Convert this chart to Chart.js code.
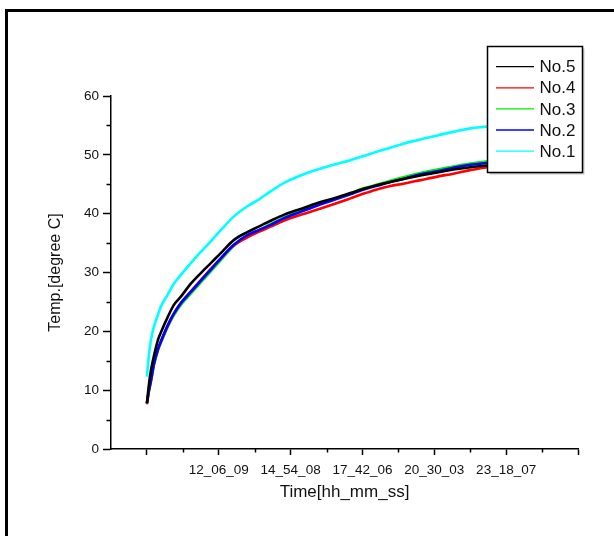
<!DOCTYPE html>
<html>
<head>
<meta charset="utf-8">
<script src="https://cdn.jsdelivr.net/npm/chart.js@4/dist/chart.umd.min.js"></script>
<style>
  html, body { margin: 0; padding: 0; background: #fff; overflow: hidden; }
  #frame { position: absolute; left: 5px; top: 9px; width: 640px; height: 560px; border: 3px solid #000; box-sizing: border-box; }
  #c { position: absolute; left: 0; top: 0; }
</style>
</head>
<body>
<div id="frame"></div>
<canvas id="c" width="614" height="536"></canvas>
<script>
// x positions in units of major time ticks (0 = start of record)
const timeIndex = [0, 0.028, 0.056, 0.097, 0.153, 0.194, 0.292, 0.375, 0.472, 0.611, 0.75, 0.889, 1.028, 1.208, 1.403, 1.556, 1.722, 1.903, 2.139, 2.375, 2.597, 2.833, 3.042, 3.222, 3.389, 3.569, 3.806, 4.042, 4.264, 4.5, 4.736, 5.056, 5.333, 5.611];
const timeLabels = ['', '12_06_09', '14_54_08', '17_42_06', '20_30_03', '23_18_07', ''];
const yTicks = [0, 10, 20, 30, 40, 50, 60];

const no5 = [7.8, 11.0, 13.4, 15.8, 18.5, 19.8, 22.5, 24.5, 25.9, 28.1, 29.9, 31.6, 33.3, 35.5, 36.9, 37.8, 38.8, 39.8, 40.8, 41.8, 42.6, 43.5, 44.3, 44.9, 45.4, 45.9, 46.5, 47.0, 47.5, 47.9, 48.2, 48.7, 49.1, 49.4];
const no4 = [7.6, 9.9, 11.6, 14.4, 16.9, 18.2, 21.0, 23.0, 24.8, 26.8, 28.7, 30.6, 32.4, 34.6, 36.0, 36.9, 37.8, 38.8, 39.8, 40.7, 41.6, 42.6, 43.5, 44.2, 44.7, 45.1, 45.7, 46.3, 46.8, 47.4, 47.9, 48.3, 48.7, 49.0];
const no3 = [7.8, 9.8, 11.4, 14.2, 16.7, 18.0, 20.8, 22.7, 24.5, 26.4, 28.3, 30.2, 32.1, 34.5, 36.3, 37.2, 38.2, 39.3, 40.5, 41.6, 42.5, 43.5, 44.4, 45.0, 45.6, 46.2, 46.9, 47.5, 48.0, 48.5, 48.9, 49.4, 49.8, 50.1];
const no2 = [7.8, 10.0, 11.7, 14.5, 17.0, 18.3, 21.1, 23.0, 24.8, 26.7, 28.6, 30.5, 32.4, 34.7, 36.4, 37.2, 38.1, 39.2, 40.3, 41.4, 42.3, 43.3, 44.2, 44.8, 45.4, 45.9, 46.7, 47.2, 47.8, 48.3, 48.6, 49.1, 49.5, 49.8];
const no1 = [12.3, 16.0, 18.5, 20.8, 22.8, 24.2, 26.3, 28.1, 29.6, 31.6, 33.5, 35.3, 37.2, 39.5, 41.3, 42.4, 43.8, 45.2, 46.5, 47.5, 48.3, 49.1, 49.9, 50.6, 51.2, 51.9, 52.6, 53.3, 53.9, 54.5, 54.8, 55.3, 55.7, 56.0];

const seriesNames = ['No.5', 'No.4', 'No.3', 'No.2', 'No.1'];
const seriesValues = [no5, no4, no3, no2, no1];
const seriesColors = ['#000000', '#ff0000', '#00ee00', '#0000ff', '#00ffff'];
const drawOrder = [0, 2, 3, 1, 4];

const FONT = '"Liberation Sans", Arial, sans-serif';

const datasets = seriesNames.map((name, i) => ({
  label: name,
  data: timeIndex.map((x, k) => ({ x: x, y: seriesValues[i][k] })),
  borderColor: seriesColors[i],
  backgroundColor: seriesColors[i],
  borderWidth: 2.6,
  pointRadius: 0,
  cubicInterpolationMode: 'monotone',
  fill: false,
  order: drawOrder[i]
}));

const minorTicks = {
  id: 'minorTicks',
  afterDraw(chart) {
    const ctx = chart.ctx, a = chart.chartArea, xs = chart.scales.x, ys = chart.scales.y;
    ctx.save();
    ctx.strokeStyle = '#000';
    ctx.lineWidth = 1.5;
    ctx.beginPath();
    for (let v = 0.5; v < 6; v += 1) {
      const px = Math.round(xs.getPixelForValue(v)) + 0.5;
      ctx.moveTo(px, a.bottom); ctx.lineTo(px, a.bottom + 3.5);
    }
    for (let v = 5; v < 60; v += 10) {
      const py = Math.round(ys.getPixelForValue(v)) + 0.5;
      ctx.moveTo(a.left, py); ctx.lineTo(a.left - 4.5, py);
    }
    ctx.stroke();
    ctx.restore();
  }
};

const boxLegend = {
  id: 'boxLegend',
  afterDraw(chart) {
    const ctx = chart.ctx;
    const L = 487.5, T = 46.5, W = 95, H = 126;
    ctx.save();
    ctx.fillStyle = '#c8c8c8';
    ctx.fillRect(L + 2, T + 2, W, H);
    ctx.fillStyle = '#fff';
    ctx.fillRect(L, T, W, H);
    ctx.strokeStyle = '#000';
    ctx.lineWidth = 1.5;
    ctx.strokeRect(L, T, W, H);
    ctx.font = '17px ' + FONT;
    ctx.textBaseline = 'middle';
    ctx.textAlign = 'left';
    chart.data.datasets.forEach((ds, i) => {
      const y = 66.7 + i * 21.1;
      ctx.strokeStyle = ds.borderColor;
      ctx.lineWidth = 1.3;
      ctx.beginPath();
      ctx.moveTo(496, y); ctx.lineTo(534, y);
      ctx.stroke();
      ctx.fillStyle = '#111';
      ctx.fillText(ds.label, 539.5, y + 1);
    });
    ctx.restore();
  }
};

new Chart(document.getElementById('c'), {
  type: 'line',
  data: { datasets: datasets },
  options: {
    responsive: false,
    animation: false,
    devicePixelRatio: 1,
    layout: { padding: { top: 96, right: 36, left: 0, bottom: 0 } },
    plugins: { legend: { display: false }, tooltip: { enabled: false } },
    scales: {
      x: {
        type: 'linear',
        min: -0.5,
        max: 6,
        afterBuildTicks: (s) => { s.ticks = timeLabels.map((t, i) => ({ value: i })); },
        afterFit: (s) => { s.height = 87; },
        ticks: {
          autoSkip: false,
          maxRotation: 0,
          padding: 7,
          color: '#111',
          font: { family: FONT, size: 13.5 },
          callback: (v) => timeLabels[Math.round(v)] ?? ''
        },
        grid: { drawOnChartArea: false, drawTicks: true, tickLength: 6, tickColor: '#000', tickWidth: 1.5 },
        border: { display: true, color: '#000', width: 1.5 },
        title: { display: true, text: 'Time[hh_mm_ss]', color: '#111', font: { family: FONT, size: 17 }, padding: { top: 0, bottom: 33 } }
      },
      y: {
        type: 'linear',
        min: 0,
        max: 60,
        afterBuildTicks: (s) => { s.ticks = yTicks.map(v => ({ value: v })); },
        afterFit: (s) => { s.width = 111; },
        ticks: {
          padding: 4,
          color: '#111',
          font: { family: FONT, size: 13.5 }
        },
        grid: { drawOnChartArea: false, drawTicks: true, tickLength: 8, tickColor: '#000', tickWidth: 1.5 },
        border: { display: true, color: '#000', width: 1.5 },
        title: { display: true, text: 'Temp.[degree C]', color: '#111', font: { family: FONT, size: 16 }, padding: { top: 46, bottom: 0 } }
      }
    }
  },
  plugins: [minorTicks, boxLegend]
});
</script>
</body>
</html>
